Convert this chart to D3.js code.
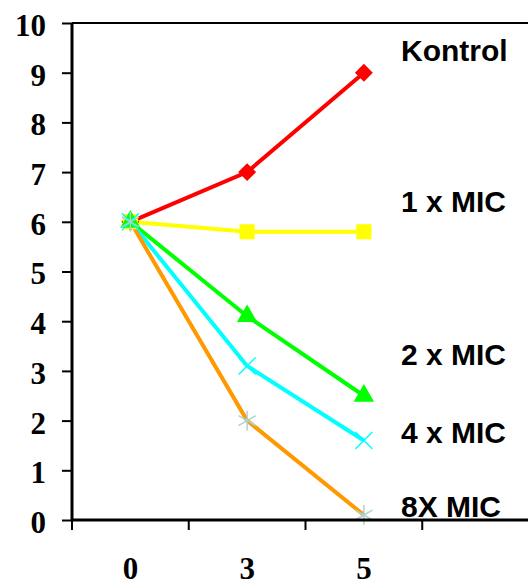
<html>
<script src='https://d3js.org/d3.v7.min.js'></script>
<style>
body {margin:0; background:#fff;}
.ylab, .xlab {font-family:'Liberation Serif','Times New Roman',serif; font-weight:bold; font-size:31px;}
.slab {font-family:'Liberation Sans',Arial,sans-serif; font-weight:bold; font-size:30px;}
</style>
<body onload='init()'>
<svg width=528 height=585></svg>
<script>
// data
var days = ["0", "3", "5"];
var seriesNames = ["Kontrol", "1 x MIC", "2 x MIC", "4 x MIC", "8X MIC"];
var kontrol = [6, 7, 9];
var mic1 = [6, 5.8, 5.8];
var mic2 = [6, 4.1, 2.5];
var mic4 = [6, 3.1, 1.6];
var mic8 = [6, 2.0, 0.1];
var yTicks = [0, 1, 2, 3, 4, 5, 6, 7, 8, 9, 10];

function init() {
var svg = d3.select("svg");

// x is a category axis with one empty slot on the right for the labels
var x = d3.scaleBand().domain(days.concat([""])).range([72, 539]).padding(0);
var y = d3.scaleLinear().domain([0, 10]).range([520, 23]);

var series = [
  {name: seriesNames[0], values: kontrol, color: "#ff0000", marker: "diamond", labelY: 61},
  {name: seriesNames[1], values: mic1, color: "#ffff00", marker: "square", labelY: 212},
  {name: seriesNames[2], values: mic2, color: "#00ff00", marker: "triangle", labelY: 365},
  {name: seriesNames[3], values: mic4, color: "#00ffff", marker: "times", labelY: 443},
  {name: seriesNames[4], values: mic8, color: "#ff9900", marker: "asterisk", mcolor: "#a8d4d4", labelY: 517}
];

function cx(i) { return x(days[i]) + x.bandwidth() / 2; }

// frame: top line
svg.append("line")
  .attr("x1", 72).attr("x2", 528).attr("y1", y(10)).attr("y2", y(10))
  .attr("stroke", "#000").attr("stroke-width", 2);

// lines
var line = d3.line().x(function(d, i) { return cx(i); }).y(function(d) { return y(d); });
svg.selectAll("path.series").data(series).enter().append("path")
  .attr("class", "series")
  .attr("d", function(s) { return line(s.values); })
  .attr("fill", "none")
  .attr("stroke", function(s) { return s.color; })
  .attr("stroke-width", 4);

// markers
var shapes = {
  diamond: d3.symbol().type(d3.symbolSquare).size(160),
  square: d3.symbol().type(d3.symbolSquare).size(230),
  triangle: d3.symbol().type(d3.symbolTriangle).size(180),
  times: d3.symbol().type(d3.symbolTimes).size(190),
  asterisk: d3.symbol().type(d3.symbolAsterisk).size(280)
};
series.forEach(function(s) {
  var stroked = (s.marker == "times" || s.marker == "asterisk");
  svg.append("g").selectAll("path").data(s.values).enter().append("path")
    .attr("d", shapes[s.marker]())
    .attr("transform", function(d, i) {
      return "translate(" + cx(i) + "," + y(d) + ")" + (s.marker == "diamond" ? " rotate(45)" : "");
    })
    .attr("fill", stroked ? "none" : s.color)
    .attr("stroke", stroked ? (s.mcolor || s.color) : "none")
    .attr("stroke-width", 1.5);
});

// y axis
var ya = svg.append("g").attr("transform", "translate(72,0)")
  .call(d3.axisLeft(y).tickValues(yTicks).tickSize(10).tickPadding(16).tickFormat(d3.format("d")));
ya.select(".domain").attr("stroke-width", 3).attr("d", "M0," + y(10) + "V" + (y(0) + 1));
ya.selectAll(".tick line").attr("stroke-width", 2);
ya.selectAll("text").attr("class", "ylab").attr("dy", "0.4em").attr("font-size", null).attr("font-family", null);

// x axis
svg.append("line")
  .attr("x1", 72).attr("x2", 528).attr("y1", y(0)).attr("y2", y(0))
  .attr("stroke", "#000").attr("stroke-width", 3);
svg.append("g").selectAll("line").data(x.domain()).enter().append("line")
  .attr("x1", function(d) { return x(d); }).attr("x2", function(d) { return x(d); })
  .attr("y1", y(0)).attr("y2", y(0) + 10)
  .attr("stroke", "#000").attr("stroke-width", 2);
svg.append("g").selectAll("text").data(days).enter().append("text")
  .attr("class", "xlab")
  .attr("x", function(d) { return x(d) + x.bandwidth() / 2; })
  .attr("y", 579)
  .attr("text-anchor", "middle")
  .text(function(d) { return d; });

// series labels
svg.append("g").selectAll("text").data(series).enter().append("text")
  .attr("class", "slab")
  .attr("x", 401)
  .attr("y", function(s) { return s.labelY; })
  .text(function(s) { return s.name; });
}
</script>
</body>
</html>
